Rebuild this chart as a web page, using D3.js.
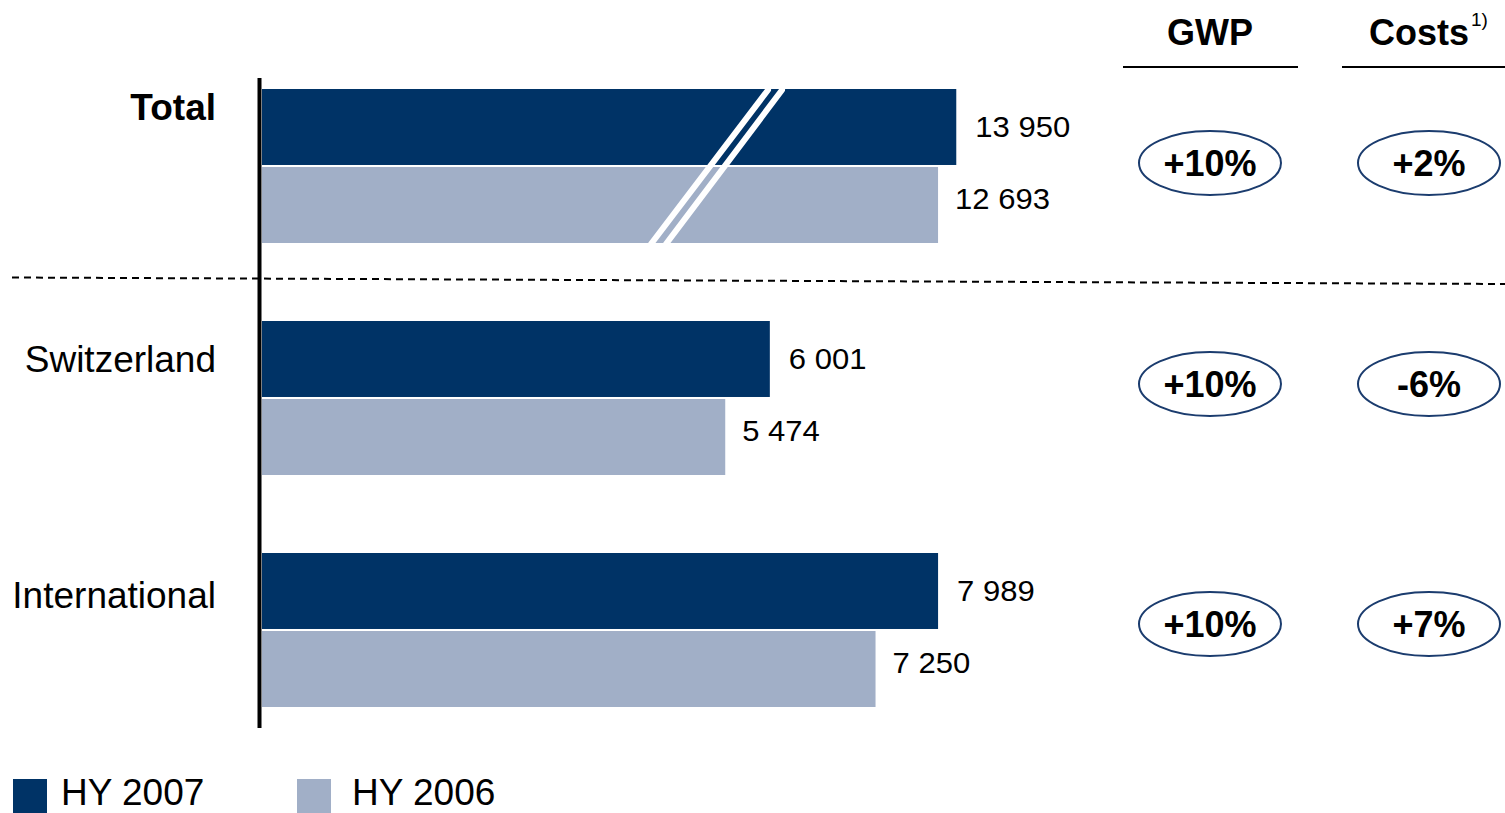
<!DOCTYPE html>
<html>
<head>
<meta charset="utf-8">
<script src="https://cdn.jsdelivr.net/npm/d3@7"></script>
<style>
  html, body { margin: 0; padding: 0; background: #fff; }
  svg { display: block; font-family: "Liberation Sans", Arial, sans-serif; }
</style>
</head>
<body>
<svg id="chart" width="1505" height="813"></svg>
<script>
// ---- Data ----
const categories = ["Total", "Switzerland", "International"];
const seriesNames = ["HY 2007", "HY 2006"];
const hy2007 = [13950, 6001, 7989];
const hy2006 = [12693, 5474, 7250];
const columnHeaders = ["GWP", "Costs"];
const gwpChange = ["+10%", "+10%", "+10%"];
const costsChange = ["+2%", "-6%", "+7%"];
const footnoteMark = "1)";

// ---- Style / layout ----
const colors = { "HY 2007": "#003366", "HY 2006": "#A1AFC7" };
const ellipseStroke = "#1B3C6E";
const W = 1505, H = 813;
const svg = d3.select("#chart");

const fmt = d3.formatLocale({ decimal: ".", thousands: " ", grouping: [3], currency: ["", ""] }).format(",d");

// category bands
const yGroup = d3.scaleBand().domain(categories).range([89, 89 + 2 * 232 + 154]).paddingInner(78 / 232).paddingOuter(0);
const ySeries = d3.scaleBand().domain(seriesNames).range([0, yGroup.bandwidth()]).paddingInner(0.026);

// value scales: regular and broken (for Total)
const x = d3.scaleLinear().domain([0, 8000]).range([262, 939]);
const xBroken = d3.scaleLinear().domain([0, 12000, 14000]).range([262, 928, 957]);
const xFor = cat => cat === "Total" ? xBroken : x;

const rows = categories.map((c, i) => ({
  cat: c,
  values: [
    { s: "HY 2007", v: hy2007[i] },
    { s: "HY 2006", v: hy2006[i] }
  ],
  gwp: gwpChange[i],
  costs: costsChange[i]
}));

// dashed separator between Total and the segments
svg.append("line")
  .attr("x1", 12).attr("y1", 277.5).attr("x2", W).attr("y2", 284)
  .attr("stroke", "#000").attr("stroke-width", 2).attr("stroke-dasharray", "7,5");

// bars
const labelGap = { "HY 2007": 19, "HY 2006": 17 };
const labelLift = { "HY 2007": 0, "HY 2006": -6 };
const g = svg.selectAll("g.row").data(rows).enter().append("g")
  .attr("class", "row")
  .attr("transform", d => `translate(0,${yGroup(d.cat)})`);

g.each(function (d) {
  const sx = xFor(d.cat);
  const gg = d3.select(this);
  gg.selectAll("rect").data(d.values).enter().append("rect")
    .attr("x", sx(0))
    .attr("y", v => ySeries(v.s))
    .attr("width", v => sx(v.v) - sx(0))
    .attr("height", ySeries.bandwidth())
    .attr("fill", v => colors[v.s]);

  gg.selectAll("text.val").data(d.values).enter().append("text")
    .attr("class", "val")
    .attr("transform", v => `translate(${sx(v.v) + labelGap[v.s]},${ySeries(v.s) + ySeries.bandwidth() / 2 + labelLift[v.s] + 10}) scale(1.07,1)`)
    .attr("font-size", 29)
    .attr("fill", "#000")
    .text(v => fmt(v.v));
});

// axis break marks on the Total bars
const bTop = yGroup("Total") + 1, bBot = yGroup("Total") + yGroup.bandwidth() + 1;
[[768, 651], [782, 666]].forEach(([xt, xb]) => {
  svg.append("line")
    .attr("x1", xt).attr("y1", bTop).attr("x2", xb).attr("y2", bBot)
    .attr("stroke", "#fff").attr("stroke-width", 6).attr("stroke-linecap", "round");
});

// vertical baseline axis
svg.append("line")
  .attr("x1", 259.5).attr("x2", 259.5).attr("y1", 78).attr("y2", 728)
  .attr("stroke", "#000").attr("stroke-width", 4);

// category labels
const labelShift = { "Total": -20, "Switzerland": 0, "International": 4 };
svg.selectAll("text.cat").data(categories).enter().append("text")
  .attr("class", "cat")
  .attr("x", 216)
  .attr("y", c => yGroup(c) + ySeries("HY 2007") + ySeries.bandwidth() / 2 + 13 + labelShift[c])
  .attr("text-anchor", "end")
  .attr("font-size", 37)
  .attr("font-weight", c => c === "Total" ? "bold" : "normal")
  .attr("fill", "#000")
  .text(c => c);

// column headers
const colX = { "GWP": 1210, "Costs": 1429 };
const colLine = { "GWP": [1123, 1298], "Costs": [1342, 1505] };
svg.append("text").attr("x", colX.GWP).attr("y", 45).attr("text-anchor", "middle")
  .attr("font-size", 36).attr("font-weight", "bold").text(columnHeaders[0]);
svg.append("text").attr("x", 1469).attr("y", 45).attr("text-anchor", "end")
  .attr("font-size", 36).attr("font-weight", "bold").text(columnHeaders[1]);
svg.append("text").attr("x", 1471).attr("y", 26)
  .attr("font-size", 19).text(footnoteMark);
columnHeaders.forEach(h => {
  svg.append("line")
    .attr("x1", colLine[h][0]).attr("x2", colLine[h][1]).attr("y1", 67).attr("y2", 67)
    .attr("stroke", "#000").attr("stroke-width", 2);
});

// change ellipses
const ellipseShift = { "Total": -3, "Switzerland": -14, "International": -6 };
rows.forEach(r => {
  const cy = yGroup(r.cat) + yGroup.bandwidth() / 2 + ellipseShift[r.cat];
  [["GWP", r.gwp], ["Costs", r.costs]].forEach(([col, txt]) => {
    svg.append("ellipse")
      .attr("cx", colX[col]).attr("cy", cy).attr("rx", 71).attr("ry", 32)
      .attr("fill", "none").attr("stroke", ellipseStroke).attr("stroke-width", 2);
    svg.append("text")
      .attr("x", colX[col]).attr("y", cy + 13)
      .attr("text-anchor", "middle").attr("font-size", 36).attr("font-weight", "bold")
      .text(txt);
  });
});

// legend
const legendX = { "HY 2007": 13, "HY 2006": 297 };
const legendTextX = { "HY 2007": 61, "HY 2006": 352 };
seriesNames.forEach(s => {
  svg.append("rect").attr("x", legendX[s]).attr("y", 779).attr("width", 34).attr("height", 34)
    .attr("fill", colors[s]);
  svg.append("text").attr("x", legendTextX[s]).attr("y", 805)
    .attr("font-size", 37).attr("fill", "#000").text(s);
});
</script>
</body>
</html>
